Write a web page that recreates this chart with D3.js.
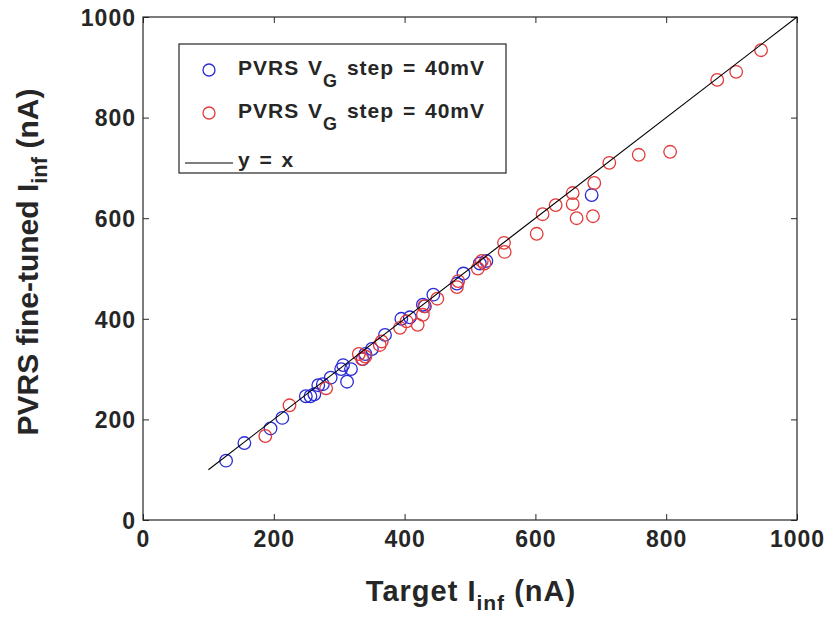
<!DOCTYPE html>
<html>
<head>
<meta charset="utf-8">
<script src="https://cdn.jsdelivr.net/npm/d3@7"></script>
<style>
  html, body { margin: 0; padding: 0; background: #fff; }
  svg { display: block; }
  text { font-family: "Liberation Sans", Arial, Helvetica, sans-serif; font-weight: bold; fill: #262626; }
</style>
</head>
<body>
<svg id="chart" width="833" height="622"></svg>
<script>
// ---- data (Target I_inf, fine-tuned I_inf) in nA ----
const blueX = [127, 155, 195, 213, 249, 256, 262, 268, 275, 287, 303, 306, 312, 318, 336, 340, 350, 370, 395, 408, 428, 431, 444, 480, 490, 515, 525, 686];
const blueY = [118, 153, 182, 203, 246, 246, 250, 268, 270, 283, 300, 308, 275, 300, 320, 330, 340, 368, 400, 403, 428, 425, 448, 470, 490, 510, 515, 646];
const redX  = [187, 224, 280, 330, 335, 340, 362, 365, 393, 403, 420, 428, 430, 450, 480, 482, 512, 518, 522, 552, 553, 602, 611, 631, 657, 657, 663, 688, 690, 713, 758, 806, 878, 907, 945];
const redY  = [167, 228, 262, 330, 320, 325, 348, 355, 382, 395, 388, 408, 425, 440, 463, 475, 500, 515, 510, 551, 533, 569, 608, 626, 650, 628, 600, 604, 670, 710, 726, 732, 875, 891, 934];
const lineX = [100, 1000];
const xTicks = [0, 200, 400, 600, 800, 1000];
const yTicks = [0, 200, 400, 600, 800, 1000];
const legendLabels = ["PVRS V|G| step = 40mV", "PVRS V|G| step = 40mV", "y = x"];

const svg = d3.select("#chart");
const pL = 143, pR = 797, pT = 17, pB = 520;
const x = d3.scaleLinear().domain([0, 1000]).range([pL, pR]);
const y = d3.scaleLinear().domain([0, 1000]).range([pB, pT]);
const axisColor = "#262626";
const fmt = d3.format("d");

// axes with inward ticks
const gx = svg.append("g").attr("transform", `translate(0,${pB})`)
  .call(d3.axisBottom(x).tickValues(xTicks).tickFormat(fmt).tickSizeInner(-6).tickSizeOuter(0).tickPadding(11));
const gxTop = svg.append("g").attr("transform", `translate(0,${pT})`)
  .call(d3.axisTop(x).tickValues(xTicks).tickSizeInner(-6).tickSizeOuter(0).tickFormat(""));
const gy = svg.append("g").attr("transform", `translate(${pL},0)`)
  .call(d3.axisLeft(y).tickValues(yTicks).tickFormat(fmt).tickSizeInner(-6).tickSizeOuter(0).tickPadding(7));
const gyR = svg.append("g").attr("transform", `translate(${pR},0)`)
  .call(d3.axisRight(y).tickValues(yTicks).tickSizeInner(-6).tickSizeOuter(0).tickFormat(""));
[gx, gxTop, gy, gyR].forEach(g => {
  g.select(".domain").remove();
  g.selectAll("line").attr("stroke", axisColor).attr("stroke-width", 1);
  g.selectAll("text").style("font-size", "23px").style("letter-spacing", "1px")
    .style("font-family", "'Liberation Sans', Arial, sans-serif").style("font-weight", "bold").attr("fill", "#262626");
});
gy.selectAll("text").attr("dy", "0.36em");
// frame
svg.append("rect").attr("x", pL).attr("y", pT).attr("width", pR - pL).attr("height", pB - pT)
  .attr("fill", "none").attr("stroke", axisColor).attr("stroke-width", 1.2);

// data points
const plot = svg.append("g");
plot.selectAll("circle.b").data(d3.range(blueX.length)).join("circle").attr("class", "b")
  .attr("cx", i => x(blueX[i])).attr("cy", i => y(blueY[i])).attr("r", 6.3)
  .attr("fill", "none").attr("stroke", "#2a2ad6").attr("stroke-width", 1.3);
plot.selectAll("circle.r").data(d3.range(redX.length)).join("circle").attr("class", "r")
  .attr("cx", i => x(redX[i])).attr("cy", i => y(redY[i])).attr("r", 6.3)
  .attr("fill", "none").attr("stroke", "#e23a3a").attr("stroke-width", 1.3);
// y = x
plot.append("line").attr("x1", x(lineX[0])).attr("y1", y(lineX[0])).attr("x2", x(lineX[1])).attr("y2", y(lineX[1]))
  .attr("stroke", "#000").attr("stroke-width", 1.1);

// legend
const lg = svg.append("g");
lg.append("rect").attr("x", 179).attr("y", 44).attr("width", 327).attr("height", 129)
  .attr("fill", "#fff").attr("stroke", axisColor).attr("stroke-width", 1.2);
const rowsY = [70, 113, 163];
function richText(g, str, tx, ty) {
  const parts = str.split("|");
  const t = g.append("text").attr("x", tx).attr("y", ty)
    .style("font-size", "21px").style("letter-spacing", "1px").style("word-spacing", "2px");
  t.append("tspan").text(parts[0]);
  if (parts.length > 1) {
    t.append("tspan").attr("dy", 12).style("font-size", "18px").text(parts[1]);
    t.append("tspan").attr("dy", -12).text(parts[2]);
  }
}
lg.append("circle").attr("cx", 209).attr("cy", rowsY[0]).attr("r", 6).attr("fill", "none").attr("stroke", "#2a2ad6").attr("stroke-width", 1.3);
lg.append("circle").attr("cx", 209).attr("cy", rowsY[1]).attr("r", 6).attr("fill", "none").attr("stroke", "#e23a3a").attr("stroke-width", 1.3);
lg.append("line").attr("x1", 185).attr("x2", 233).attr("y1", rowsY[2]).attr("y2", rowsY[2]).attr("stroke", "#000").attr("stroke-width", 1.1);
richText(lg, legendLabels[0], 238, 75);
richText(lg, legendLabels[1], 238, 118);
richText(lg, legendLabels[2], 238, 167);

// axis titles
const xt = svg.append("text").attr("x", 471).attr("y", 601).attr("text-anchor", "middle")
  .style("font-size", "29px").style("letter-spacing", "1px");
xt.append("tspan").text("Target I");
xt.append("tspan").attr("dy", 9).style("font-size", "21px").text("inf");
xt.append("tspan").attr("dy", -9).text(" (nA)");
const yt = svg.append("text").attr("transform", "translate(38,262) rotate(-90)").attr("text-anchor", "middle")
  .style("font-size", "30px");
yt.append("tspan").text("PVRS fine-tuned I");
yt.append("tspan").attr("dy", 9).style("font-size", "22px").text("inf");
yt.append("tspan").attr("dy", -9).text(" (nA)");
</script>
</body>
</html>
